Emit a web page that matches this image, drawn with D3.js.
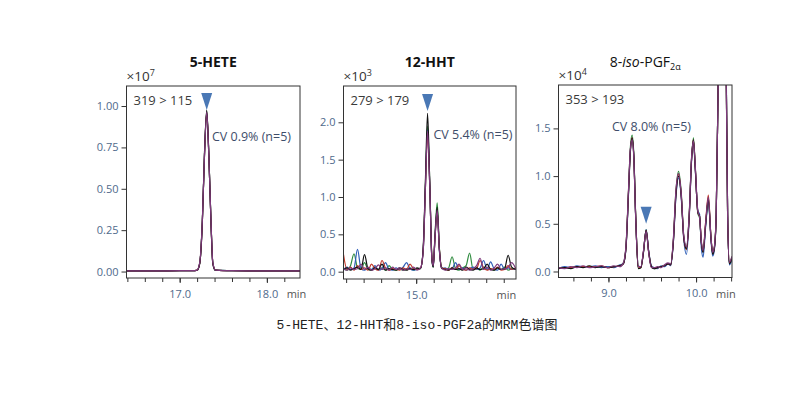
<!DOCTYPE html>
<html>
<head>
<meta charset="utf-8">
<script src="https://cdn.jsdelivr.net/npm/d3@7"></script>
<style>
  body { margin: 0; background: #fff; }
  svg text { font-family: "Open Sans", "Noto Sans", sans-serif; }
</style>
</head>
<body>
<div id="chart"></div>
<script>
/**
 * DATA
 * */
const runColors = ["#2e8b3e", "#2f5fb8", "#c0392b", "#111111", "#7e3a7c"]; // green, blue, red, black, magenta

// 5-HETE, x10^7
const heteTimes = [16.39, 16.70, 17.00, 17.15, 17.20, 17.23, 17.26, 17.285, 17.31, 17.335, 17.36, 17.38, 17.41, 17.60, 17.90, 18.20, 18.38];
const heteRuns = [
  [0.004, 0.004, 0.005, 0.005, 0.008, 0.05, 0.31, 0.72, 0.970, 0.70, 0.29, 0.05, 0.008, 0.005, 0.004, 0.004, 0.004],
  [0.004, 0.004, 0.005, 0.005, 0.008, 0.05, 0.30, 0.71, 0.955, 0.69, 0.28, 0.05, 0.008, 0.005, 0.004, 0.004, 0.004],
  [0.004, 0.004, 0.005, 0.005, 0.009, 0.05, 0.30, 0.71, 0.960, 0.69, 0.28, 0.05, 0.009, 0.005, 0.004, 0.004, 0.004],
  [0.004, 0.004, 0.005, 0.005, 0.008, 0.05, 0.30, 0.72, 0.975, 0.70, 0.28, 0.05, 0.008, 0.005, 0.004, 0.004, 0.004],
  [0.004, 0.004, 0.005, 0.005, 0.009, 0.055, 0.31, 0.71, 0.965, 0.69, 0.29, 0.055, 0.009, 0.005, 0.004, 0.004, 0.004]
];

// 12-HHT, x10^3
const hhtTimes = [
  14.17, 14.21, 14.25, 14.29, 14.33, 14.37, 14.41, 14.45, 14.49, 14.53, 14.57, 14.61, 14.65, 14.69, 14.73, 14.77, 14.81, 14.85, 14.89, 14.93, 14.97, 15.01,
  15.05, 15.08, 15.105, 15.13, 15.155, 15.18, 15.195, 15.215, 15.24, 15.265, 15.29,
  15.33, 15.37, 15.41, 15.45, 15.49, 15.53, 15.57, 15.61, 15.65, 15.69, 15.73, 15.77, 15.81, 15.85, 15.89, 15.93, 15.97, 16.01, 16.05, 16.09, 16.14
];
const hhtRuns = [
  [0.05, 0.02, 0.08, 0.24, 0.05, 0.03, 0.12, 0.03, 0.02, 0.06, 0.03, 0.05, 0.02, 0.08, 0.03, 0.02, 0.04, 0.02, 0.03, 0.05, 0.02, 0.04,
   0.04, 0.30, 1.15, 1.95, 1.20, 0.16, 0.06, 0.50, 0.92, 0.32, 0.06,
   0.03, 0.05, 0.20, 0.04, 0.02, 0.05, 0.08, 0.25, 0.03, 0.05, 0.02, 0.06, 0.03, 0.04, 0.02, 0.05, 0.03, 0.06, 0.02, 0.04, 0.03],
  [0.02, 0.06, 0.03, 0.05, 0.30, 0.04, 0.02, 0.05, 0.03, 0.08, 0.02, 0.04, 0.12, 0.03, 0.02, 0.05, 0.03, 0.06, 0.12, 0.04, 0.02, 0.03,
   0.05, 0.27, 1.10, 1.90, 1.15, 0.17, 0.07, 0.45, 0.80, 0.28, 0.04,
   0.05, 0.03, 0.04, 0.12, 0.03, 0.05, 0.02, 0.04, 0.06, 0.03, 0.05, 0.15, 0.03, 0.13, 0.04, 0.02, 0.10, 0.03, 0.05, 0.03, 0.04],
  [0.23, 0.03, 0.06, 0.02, 0.08, 0.03, 0.05, 0.02, 0.10, 0.04, 0.02, 0.15, 0.05, 0.02, 0.04, 0.03, 0.02, 0.05, 0.03, 0.10, 0.04, 0.03,
   0.05, 0.28, 1.10, 1.85, 1.15, 0.18, 0.08, 0.45, 0.80, 0.30, 0.05,
   0.04, 0.02, 0.05, 0.03, 0.08, 0.03, 0.02, 0.05, 0.03, 0.04, 0.15, 0.05, 0.02, 0.04, 0.03, 0.06, 0.02, 0.03, 0.08, 0.03, 0.05],
  [0.03, 0.05, 0.02, 0.04, 0.06, 0.03, 0.23, 0.04, 0.02, 0.05, 0.03, 0.10, 0.02, 0.04, 0.03, 0.02, 0.05, 0.03, 0.02, 0.04, 0.03, 0.05,
   0.04, 0.32, 1.20, 2.12, 1.20, 0.15, 0.06, 0.48, 0.86, 0.30, 0.05,
   0.03, 0.02, 0.05, 0.03, 0.04, 0.02, 0.06, 0.03, 0.02, 0.05, 0.03, 0.04, 0.10, 0.03, 0.02, 0.05, 0.03, 0.04, 0.22, 0.06, 0.03],
  [0.04, 0.02, 0.05, 0.03, 0.04, 0.10, 0.03, 0.06, 0.02, 0.04, 0.09, 0.03, 0.05, 0.02, 0.06, 0.03, 0.05, 0.02, 0.04, 0.03, 0.06, 0.02,
   0.05, 0.28, 1.12, 1.88, 1.15, 0.16, 0.08, 0.46, 0.82, 0.29, 0.05,
   0.02, 0.04, 0.03, 0.05, 0.10, 0.03, 0.05, 0.02, 0.04, 0.08, 0.18, 0.03, 0.06, 0.02, 0.05, 0.10, 0.03, 0.04, 0.06, 0.12, 0.03]
];

// 8-iso-PGF2a, x10^4
const pgfTimes = [
  8.43, 8.50, 8.57, 8.64, 8.71, 8.78, 8.85, 8.92, 8.99, 9.06, 9.13, 9.17,
  9.20, 9.23, 9.25, 9.27, 9.29, 9.31, 9.34, 9.37, 9.40, 9.43, 9.46, 9.49,
  9.52, 9.56, 9.60, 9.64, 9.68, 9.71, 9.74, 9.77, 9.80, 9.83, 9.86, 9.89,
  9.92, 9.95, 9.97, 9.99, 10.02, 10.04, 10.06, 10.08, 10.11, 10.14, 10.17, 10.19,
  10.21, 10.23, 10.26, 10.30, 10.34, 10.36, 10.38, 10.41
];
const pgfRuns = [
  [0.04, 0.04, 0.04, 0.05, 0.05, 0.05, 0.05, 0.05, 0.05, 0.05, 0.06, 0.09,
   0.26, 0.87, 1.30, 1.43, 1.22, 0.61, 0.05, 0.04, 0.21, 0.44, 0.20, 0.05,
   0.03, 0.04, 0.05, 0.06, 0.08, 0.07, 0.32, 0.84, 1.05, 0.84, 0.36, 0.23,
   0.56, 1.21, 1.40, 1.11, 0.61, 0.56, 0.30, 0.21, 0.50, 0.77, 0.36, 0.19,
   0.26, 0.61, 2.48, 4.00, 2.48, 0.59, 0.09, 0.15],
  [0.03, 0.05, 0.04, 0.06, 0.05, 0.05, 0.06, 0.04, 0.05, 0.04, 0.07, 0.08,
   0.24, 0.83, 1.27, 1.39, 1.19, 0.59, 0.06, 0.05, 0.21, 0.44, 0.21, 0.06,
   0.04, 0.03, 0.06, 0.05, 0.08, 0.06, 0.29, 0.78, 0.98, 0.78, 0.33, 0.18,
   0.52, 1.18, 1.36, 1.08, 0.64, 0.60, 0.25, 0.15, 0.48, 0.74, 0.33, 0.16,
   0.24, 0.58, 2.55, 4.00, 2.55, 0.62, 0.07, 0.12],
  [0.03, 0.04, 0.04, 0.05, 0.05, 0.05, 0.05, 0.06, 0.04, 0.05, 0.06, 0.08,
   0.25, 0.86, 1.27, 1.40, 1.19, 0.60, 0.05, 0.04, 0.21, 0.43, 0.20, 0.05,
   0.04, 0.04, 0.05, 0.06, 0.08, 0.07, 0.31, 0.82, 1.02, 0.81, 0.35, 0.23,
   0.54, 1.20, 1.38, 1.10, 0.62, 0.58, 0.31, 0.21, 0.53, 0.80, 0.36, 0.19,
   0.26, 0.60, 2.50, 4.00, 2.50, 0.60, 0.09, 0.15],
  [0.03, 0.04, 0.03, 0.05, 0.04, 0.06, 0.04, 0.05, 0.04, 0.05, 0.06, 0.08,
   0.25, 0.85, 1.25, 1.40, 1.20, 0.60, 0.03, 0.04, 0.20, 0.43, 0.20, 0.05,
   0.03, 0.04, 0.05, 0.06, 0.08, 0.07, 0.30, 0.80, 1.00, 0.80, 0.35, 0.24,
   0.55, 1.20, 1.38, 1.10, 0.62, 0.58, 0.30, 0.20, 0.50, 0.75, 0.35, 0.18,
   0.25, 0.60, 2.50, 4.00, 2.50, 0.60, 0.08, 0.14],
  [0.04, 0.03, 0.05, 0.04, 0.06, 0.04, 0.05, 0.06, 0.04, 0.06, 0.05, 0.09,
   0.27, 0.88, 1.28, 1.38, 1.18, 0.58, 0.05, 0.05, 0.22, 0.42, 0.19, 0.04,
   0.04, 0.05, 0.04, 0.07, 0.09, 0.08, 0.33, 0.85, 1.03, 0.82, 0.37, 0.26,
   0.57, 1.22, 1.37, 1.12, 0.63, 0.57, 0.32, 0.22, 0.52, 0.78, 0.36, 0.20,
   0.27, 0.62, 2.45, 4.00, 2.45, 0.58, 0.10, 0.16]
];

// ticks
const heteYTicks = [0, 0.25, 0.5, 0.75, 1.0];
const hhtYTicks = [0, 0.5, 1.0, 1.5, 2.0];
const pgfYTicks = [0, 0.5, 1.0, 1.5];
const heteXMinor = [16.4, 16.6, 16.8, 17.0, 17.2, 17.4, 17.6, 17.8, 18.0, 18.2];
const hhtXMinor = [14.2, 14.4, 14.6, 14.8, 15.0, 15.2, 15.4, 15.6, 15.8, 16.0];
const pgfXMinor = [8.6, 8.8, 9.0, 9.2, 9.4, 9.6, 9.8, 10.0, 10.2, 10.4];
const heteXLabels = [17.0, 18.0];
const hhtXLabels = [15.0];
const pgfXLabels = [9.0, 10.0];

const transitions = ["319 > 115", "279 > 179", "353 > 193"];
const cvLabels = ["CV 0.9% (n=5)", "CV 5.4% (n=5)", "CV 8.0% (n=5)"];
const exponents = ["7", "3", "4"];
const markerTimes = [17.31, 15.13, 9.43];
const markerValues = [0.976, 2.15, 0.50];
const caption = "5-HETE、12-HHT和8-iso-PGF2a的MRM色谱图";

/**
 * LAYOUT
 * */
const width = 804, height = 395;

const panels = [
  { key: "hete", times: heteTimes, runs: heteRuns, yTicks: heteYTicks, yFmt: ".2f",
    xMinor: heteXMinor, xLabels: heteXLabels,
    xDomain: [16.39, 18.38], yDomain: [-0.039, 1.121],
    box: { left: 126.5, right: 300, top: 86, bottom: 278 },
    cvAt: [17.37, 0.79], minAt: 18.34 },
  { key: "hht", times: hhtTimes, runs: hhtRuns, yTicks: hhtYTicks, yFmt: ".1f",
    xMinor: hhtXMinor, xLabels: hhtXLabels,
    xDomain: [14.17, 16.14], yDomain: [-0.098, 2.486],
    box: { left: 343.5, right: 516, top: 86, bottom: 279 },
    cvAt: [15.197, 1.77], minAt: 16.03 },
  { key: "pgf", times: pgfTimes, runs: pgfRuns, yTicks: pgfYTicks, yFmt: ".1f",
    xMinor: pgfXMinor, xLabels: pgfXLabels,
    xDomain: [8.43, 10.41], yDomain: [-0.063, 1.955],
    box: { left: 558.5, right: 732, top: 85, bottom: 277.5 },
    cvAt: [9.04, 1.47], minAt: 10.34 }
];

const svg = d3.select("#chart")
  .append("svg")
  .attr("width", width)
  .attr("height", height);

const tickColor = "#4f6a8c";

panels.forEach((p, i) => {
  const x = d3.scaleLinear().domain(p.xDomain).range([p.box.left, p.box.right]);
  const y = d3.scaleLinear().domain(p.yDomain).range([p.box.bottom, p.box.top]);
  const g = svg.append("g");
  const cx = (p.box.left + p.box.right) / 2;

  // clip so the big peaks stay inside the frame
  svg.append("clipPath").attr("id", "clip-" + p.key)
    .append("rect")
    .attr("x", p.box.left).attr("y", p.box.top)
    .attr("width", p.box.right - p.box.left).attr("height", p.box.bottom - p.box.top);

  // traces
  const line = d3.line()
    .x(d => x(d[0]))
    .y(d => y(d[1]))
    .curve(d3.curveMonotoneX);

  g.append("g").attr("clip-path", `url(#clip-${p.key})`)
    .selectAll("path")
    .data(p.runs)
    .join("path")
    .attr("d", run => line(p.times.map((t, j) => [t, run[j]])))
    .attr("fill", "none")
    .attr("stroke", (d, k) => runColors[k])
    .attr("stroke-width", 1.2)
    .attr("stroke-linejoin", "round");

  // frame
  g.append("rect")
    .attr("x", p.box.left).attr("y", p.box.top)
    .attr("width", p.box.right - p.box.left).attr("height", p.box.bottom - p.box.top)
    .attr("fill", "none").attr("stroke", "#333").attr("stroke-width", 1);

  // y axis
  const yAxis = g.append("g")
    .attr("transform", `translate(${p.box.left},0)`)
    .call(d3.axisLeft(y).tickValues(p.yTicks).tickFormat(d3.format(p.yFmt)).tickSize(5).tickPadding(3));
  yAxis.select(".domain").remove();

  // x axis: minor ticks then labels
  const xMinorAxis = g.append("g")
    .attr("transform", `translate(0,${p.box.bottom})`)
    .call(d3.axisBottom(x).tickValues(p.xMinor).tickFormat("").tickSize(4));
  xMinorAxis.select(".domain").remove();
  const xAxis = g.append("g")
    .attr("transform", `translate(0,${p.box.bottom})`)
    .call(d3.axisBottom(x).tickValues(p.xLabels).tickFormat(d3.format(".1f")).tickSize(5).tickPadding(7));
  xAxis.select(".domain").remove();

  [yAxis, xMinorAxis, xAxis].forEach(a => {
    a.selectAll("line").attr("stroke", "#333");
    a.selectAll("text").attr("fill", tickColor).style("font-size", "11px");
  });

  g.append("text")
    .attr("x", x(p.minAt)).attr("y", p.box.bottom + 20)
    .attr("text-anchor", "middle")
    .attr("fill", "#555").style("font-size", "11px")
    .text("min");

  // exponent label
  const ex = g.append("text")
    .attr("x", p.box.left).attr("y", p.box.top - 5)
    .attr("fill", "#333").style("font-size", "13.5px")
    .text("×10");
  ex.append("tspan").attr("dy", -5).style("font-size", "9px").text(exponents[i]);

  // transition and CV text
  g.append("text")
    .attr("x", p.box.left + 7).attr("y", p.box.top + 19)
    .attr("fill", "#3a3a3a").style("font-size", "13px")
    .text(transitions[i]);
  g.append("text")
    .attr("x", x(p.cvAt[0])).attr("y", y(p.cvAt[1]))
    .attr("fill", "#3e4d6a").style("font-size", "12.5px")
    .text(cvLabels[i]);

  // peak marker
  const mx = x(markerTimes[i]), my = y(markerValues[i]);
  g.append("path")
    .attr("d", `M${mx},${my} L${mx - 5.5},${my - 17} L${mx + 5.5},${my - 17} Z`)
    .attr("fill", "#4a78b5");

  // title
  const title = g.append("text")
    .attr("x", cx).attr("y", 67)
    .attr("text-anchor", "middle")
    .attr("fill", "#111").style("font-size", "14px").style("font-weight", "bold");
  if (p.key === "pgf") {
    title.style("font-weight", "normal");
    title.append("tspan").text("8-");
    title.append("tspan").style("font-style", "italic").text("iso");
    title.append("tspan").text("-PGF");
    title.append("tspan").attr("dy", 3).style("font-size", "9px").text("2α");
  } else {
    title.text(p.key === "hete" ? "5-HETE" : "12-HHT");
  }
});

// caption
svg.append("text")
  .attr("x", 417).attr("y", 329)
  .attr("text-anchor", "middle")
  .attr("fill", "#222")
  .style("font-family", "'Liberation Mono', 'Noto Sans CJK SC', monospace")
  .style("font-size", "13px")
  .text(caption);
</script>
</body>
</html>
